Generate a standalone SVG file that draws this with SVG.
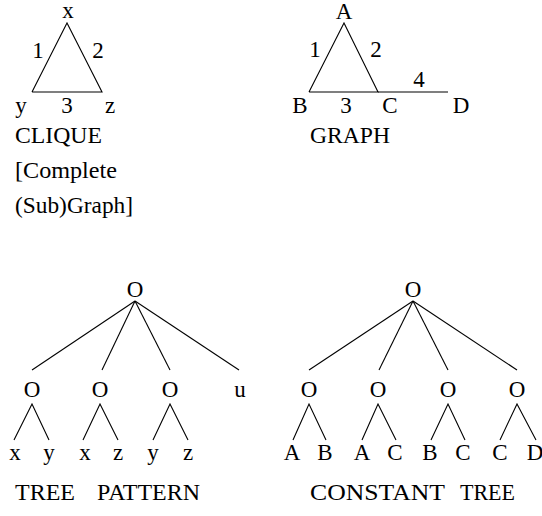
<svg xmlns="http://www.w3.org/2000/svg" width="542" height="516" viewBox="0 0 542 516">
<style>
text{font-family:'Liberation Serif','Times New Roman',Times,'DejaVu Serif',serif;font-size:23px;fill:#000;text-anchor:middle}
text.l{text-anchor:start}
line,polyline{stroke:#000;stroke-width:1.1;fill:none}
</style>
<rect width="542" height="516" fill="#fff"/>
<g id="connectors">
<polyline points="32,92 67,23 102,92 32,92"/>
<polyline points="309,92 344,23 378,92 309,92"/>
<line x1="378" y1="92" x2="448" y2="92"/>
<line x1="135" y1="301" x2="32" y2="370"/>
<line x1="135" y1="301" x2="102" y2="370"/>
<line x1="135" y1="301" x2="170" y2="370"/>
<line x1="135" y1="301" x2="239" y2="370"/>
<polyline points="14,440 32,404 49,440"/>
<polyline points="83,440 100,404 118,440"/>
<polyline points="153,440 170,404 188,440"/>
<line x1="413" y1="301" x2="309" y2="370"/>
<line x1="413" y1="301" x2="379" y2="370"/>
<line x1="413" y1="301" x2="448" y2="370"/>
<line x1="413" y1="301" x2="517" y2="370"/>
<polyline points="293,440 309,404 326,440"/>
<polyline points="362,440 378,404 396,440"/>
<polyline points="431,440 448,404 465,440"/>
<polyline points="500,440 517,404 536,440"/>
</g>
<g id="clique">
<text x="68" y="18">x</text>
<text x="38" y="58">1</text>
<text x="98" y="58">2</text>
<text x="21" y="113">y</text>
<text x="67" y="113">3</text>
<text x="110" y="113">z</text>
<text class="l" x="15" y="143" textLength="87" lengthAdjust="spacingAndGlyphs">CLIQUE</text>
<text class="l" x="15" y="178" textLength="102" lengthAdjust="spacingAndGlyphs">[Complete</text>
<text class="l" x="15" y="213" textLength="118" lengthAdjust="spacingAndGlyphs">(Sub)Graph]</text>
</g>
<g id="graph">
<text x="344" y="19">A</text>
<text x="315" y="57">1</text>
<text x="376" y="57">2</text>
<text x="419" y="87">4</text>
<text x="300" y="113">B</text>
<text x="346" y="113">3</text>
<text x="390" y="113">C</text>
<text x="461" y="113">D</text>
<text class="l" x="310" y="143" textLength="80" lengthAdjust="spacingAndGlyphs">GRAPH</text>
</g>
<g id="tree-pattern">
<text x="135" y="297">O</text>
<text x="32" y="397">O</text>
<text x="100" y="397">O</text>
<text x="170" y="397">O</text>
<text x="240" y="397">u</text>
<text x="15" y="460">x</text>
<text x="49" y="460">y</text>
<text x="85" y="460">x</text>
<text x="118" y="460">z</text>
<text x="153" y="460">y</text>
<text x="188" y="460">z</text>
<text class="l" x="15" y="500" textLength="60" lengthAdjust="spacingAndGlyphs">TREE</text>
<text class="l" x="97" y="500" textLength="103" lengthAdjust="spacingAndGlyphs">PATTERN</text>
</g>
<g id="constant-tree">
<text x="413" y="297">O</text>
<text x="309" y="397">O</text>
<text x="378" y="397">O</text>
<text x="448" y="397">O</text>
<text x="517" y="397">O</text>
<text x="292" y="460">A</text>
<text x="325" y="460">B</text>
<text x="362" y="460">A</text>
<text x="395" y="460">C</text>
<text x="430" y="460">B</text>
<text x="463" y="460">C</text>
<text x="500" y="460">C</text>
<text x="535" y="460">D</text>
<text class="l" x="310" y="500" textLength="135" lengthAdjust="spacingAndGlyphs">CONSTANT</text>
<text class="l" x="460" y="500" textLength="55" lengthAdjust="spacingAndGlyphs">TREE</text>
</g>
</svg>
